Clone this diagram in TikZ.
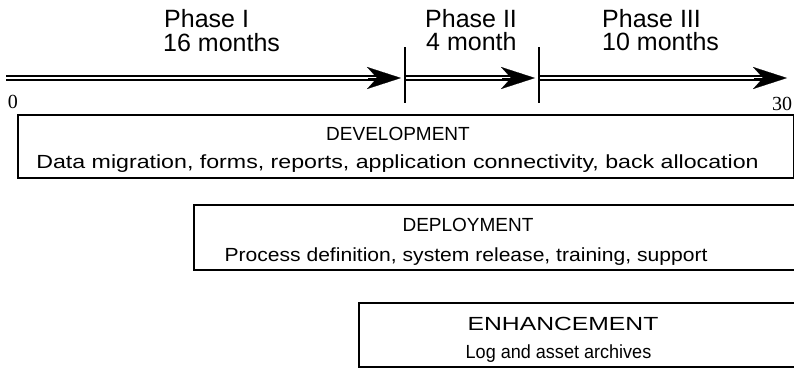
\documentclass[tikz,border=0pt]{standalone}
\usepackage{fontspec}
\setmainfont{Liberation Sans}
\newfontfamily\numfont{Liberation Serif}
\usetikzlibrary{arrows.meta}
\begin{document}
\begin{tikzpicture}[x=1pt,y=-1pt,
  axisline/.style={draw=black, line width=2.4pt, double=white, double distance=1.1pt},
  headtip/.style={-{Stealth[length=34pt,width=22pt,inset=10pt]}, line width=0.2pt},
  tick/.style={line width=1.4pt},
  box/.style={draw=black, line width=1.6pt, rectangle, anchor=north west, inner sep=0pt},
  phase/.style={anchor=base west, inner sep=0pt, font=\fontsize{25}{30}\selectfont},
  boxtxt/.style={anchor=base, inner sep=0pt, font=\fontsize{19}{23}\selectfont},
  numtxt/.style={anchor=base, inner sep=0pt, font=\numfont\fontsize{20}{24}\selectfont}]
\useasboundingbox (0,0) rectangle (794,367);
\begin{scope}
\clip (0,0) rectangle (794,367);
% axis
\coordinate (s0) at (6,78);
\coordinate (b1) at (368,78);
\coordinate (p1) at (401,78);
\coordinate (s1) at (405,78);
\coordinate (b2) at (502,78);
\coordinate (p2) at (535,78);
\coordinate (s2) at (539,78);
\coordinate (b3) at (754,78);
\coordinate (p3) at (787,78);
\draw[axisline] (s0) -- ([xshift=8pt]b1);
\draw[axisline] (s1) -- ([xshift=8pt]b2);
\draw[axisline] (s2) -- ([xshift=8pt]b3);
\draw[headtip] (b1) -- (p1);
\draw[headtip] (b2) -- (p2);
\draw[headtip] (b3) -- (p3);
\coordinate (k1t) at (405,47); \coordinate (k1b) at (405,103);
\coordinate (k2t) at (539,47); \coordinate (k2b) at (539,103);
\draw[tick] (k1t) -- (k1b);
\draw[tick] (k2t) -- (k2b);
% phase labels
\node[phase] (ph1) at (164,27) {Phase I};
\node[phase] (m1) at (163,51) {16 months};
\node[phase] (ph2) at (425,27) {Phase II};
\node[phase] (m2) at (426,50) {4 month};
\node[phase] (ph3) at (602,27) {Phase III};
\node[phase] (m3) at (602,50) {10 months};
\node[numtxt] (n0) at (13,108) {0};
\node[numtxt] (n30) at (782,110) {30};
% boxes
\node[box, minimum width=776pt, minimum height=63pt] (dev) at (17,114) {};
\node[box, minimum width=620pt, minimum height=65pt] (dep) at (193,204) {};
\node[box, minimum width=460pt, minimum height=64pt] (enh) at (358,302) {};
\node[boxtxt] (devt) at (398,140) {DEVELOPMENT};
\node[boxtxt] (devs) at (397.5,168) {\scalebox{1.22}[1]{Data migration, forms, reports, application connectivity, back allocation}};
\node[boxtxt] (dept) at (468,231) {DEPLOYMENT};
\node[boxtxt] (deps) at (466,261) {\scalebox{1.11}[1]{Process definition, system release, training, support}};
\node[boxtxt] (enht) at (563,330) {\scalebox{1.3}[1]{ENHANCEMENT}};
\node[boxtxt] (enhs) at (558.5,358) {\scalebox{0.95}[1]{Log and asset archives}};
\end{scope}
\end{tikzpicture}
\end{document}
